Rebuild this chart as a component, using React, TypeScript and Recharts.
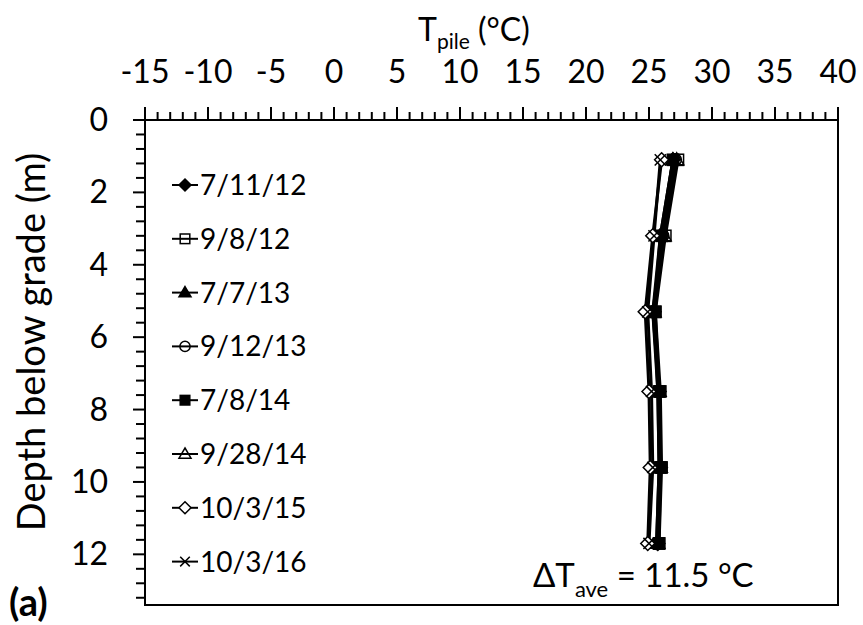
import React from "react";
import {
  LineChart,
  Line,
  XAxis,
  YAxis,
  Legend,
  ReferenceArea,
  Customized,
} from "recharts";

// depth (m) of each sensor
const depths = [1.1, 3.2, 5.3, 7.5, 9.6, 11.7];

// pile temperature (°C) per survey date
const t071112 = [26.9, 25.9, 25.4, 25.8, 25.9, 25.7];
const t090812 = [27.3, 26.3, 25.5, 25.8, 25.9, 25.8];
const t070713 = [26.9, 25.9, 25.3, 25.8, 25.9, 25.7];
const t091213 = [27.1, 26.1, 25.3, 25.7, 25.8, 25.6];
const t070814 = [26.9, 26.0, 25.5, 25.9, 26.0, 25.8];
const t092814 = [27.2, 26.2, 25.4, 25.7, 25.8, 25.6];
const t100315 = [26.0, 25.3, 24.7, 25.0, 25.1, 24.9];
const t100316 = [25.9, 25.4, 24.9, 25.2, 25.3, 25.0];

const seriesNames = [
  "7/11/12",
  "9/8/12",
  "7/7/13",
  "9/12/13",
  "7/8/14",
  "9/28/14",
  "10/3/15",
  "10/3/16",
];
const seriesValues = [
  t071112,
  t090812,
  t070713,
  t091213,
  t070814,
  t092814,
  t100315,
  t100316,
];
const seriesMarkers = [
  "diamond",
  "openSquare",
  "triangle",
  "openCircle",
  "square",
  "openTriangle",
  "openDiamond",
  "cross",
];

const xMajorTicks = [-15, -10, -5, 0, 5, 10, 15, 20, 25, 30, 35, 40];
const yMajorTicks = [0, 2, 4, 6, 8, 10, 12];

const xMinorTicks: number[] = [];
for (let v = -15; v <= 40; v++) xMinorTicks.push(v);
const yMinorTicks: number[] = [];
for (let k = 0; k <= 33; k++) yMinorTicks.push(Number((k * 0.4).toFixed(1)));

const rows = depths.map((depth, i) => {
  const row: Record<string, number> = { depth };
  seriesValues.forEach((vals, s) => {
    row["s" + s] = vals[i];
  });
  return row;
});

const FONT = "Lato, 'Open Sans', sans-serif";

function Marker({ kind, cx, cy, r = 7 }: { kind: string; cx: number; cy: number; r?: number }) {
  const sw = 1.5;
  switch (kind) {
    case "diamond":
    case "openDiamond":
      return (
        <polygon
          points={`${cx},${cy - r} ${cx + r},${cy} ${cx},${cy + r} ${cx - r},${cy}`}
          fill={kind === "diamond" ? "#000" : "#fff"}
          stroke="#000"
          strokeWidth={sw}
        />
      );
    case "square":
    case "openSquare":
      return (
        <rect
          x={cx - r * 0.8}
          y={cy - r * 0.8}
          width={r * 1.6}
          height={r * 1.6}
          fill={kind === "square" ? "#000" : "none"}
          stroke="#000"
          strokeWidth={sw}
        />
      );
    case "triangle":
    case "openTriangle":
      return (
        <polygon
          points={`${cx},${cy - r} ${cx + r},${cy + r * 0.7} ${cx - r},${cy + r * 0.7}`}
          fill={kind === "triangle" ? "#000" : "none"}
          stroke="#000"
          strokeWidth={sw}
        />
      );
    case "openCircle":
      return <circle cx={cx} cy={cy} r={r * 0.85} fill="none" stroke="#000" strokeWidth={sw} />;
    default:
      return (
        <g stroke="#000" strokeWidth={sw}>
          <line x1={cx - r * 0.8} y1={cy - r * 0.8} x2={cx + r * 0.8} y2={cy + r * 0.8} />
          <line x1={cx - r * 0.8} y1={cy + r * 0.8} x2={cx + r * 0.8} y2={cy - r * 0.8} />
        </g>
      );
  }
}

const XTick = (props: any) => {
  const { x, y, payload } = props;
  const v = payload.value;
  const major = xMajorTicks.includes(v);
  return (
    <g>
      <line x1={x} x2={x} y1={y} y2={y - (major ? 13 : 8)} stroke="#000" strokeWidth={2} />
      {major && (
        <text x={x} y={y - 37} textAnchor="middle" fontSize={32} fontFamily={FONT} fill="#000">
          {v}
        </text>
      )}
    </g>
  );
};

const YTick = (props: any) => {
  const { x, y, payload } = props;
  const v = payload.value;
  const major = yMajorTicks.some((m) => Math.abs(m - v) < 1e-6);
  return (
    <g>
      <line x1={x} x2={x - (major ? 12 : 9)} y1={y} y2={y} stroke="#000" strokeWidth={2} />
      {major && (
        <text x={x - 37} y={y + 11} textAnchor="end" fontSize={32} fontFamily={FONT} fill="#000">
          {v}
        </text>
      )}
    </g>
  );
};

const renderLegend = () => (
  <svg width={200} height={440}>
    {seriesNames.map((name, i) => {
      const cy = 25 + i * 53.8;
      return (
        <g key={name}>
          <line x1={7} x2={33} y1={cy} y2={cy} stroke="#000" strokeWidth={2} />
          <Marker kind={seriesMarkers[i]} cx={20} cy={cy} r={6} />
          <text x={35} y={cy + 10} fontSize={28} fontFamily={FONT} fill="#000">
            {name}
          </text>
        </g>
      );
    })}
  </svg>
);

const Texts = () => (
  <g fontFamily={FONT} fill="#000">
    <text x={418} y={41} fontSize={32}>
      T<tspan fontSize={21} dy={8}>pile</tspan>
      <tspan dy={-8}> (°C)</tspan>
    </text>
    <text
      x={0}
      y={0}
      fontSize={38}
      textAnchor="middle"
      transform="translate(45,342) rotate(-90)"
    >
      Depth below grade (m)
    </text>
    <text x={533} y={587} fontSize={33}>
      ΔT<tspan fontSize={22} dy={10}>ave</tspan>
      <tspan dy={-10}> = 11.5 °C</tspan>
    </text>
    <text x={9} y={616} fontSize={38} fontWeight="bold">
      (a)
    </text>
  </g>
);

export default function App() {
  return (
    <div style={{ position: "absolute", left: 0, top: 0, width: 863, height: 625, background: "#fff" }}>
      <LineChart
        width={863}
        height={625}
        data={rows}
        layout="vertical"
        margin={{ top: 60, left: 85, right: 25, bottom: 20 }}
      >
        <XAxis
          type="number"
          orientation="top"
          domain={[-15, 40]}
          ticks={xMinorTicks}
          interval={0}
          height={60}
          tickSize={0}
          tickMargin={0}
          tickLine={false}
          axisLine={{ stroke: "#000", strokeWidth: 2 }}
          tick={<XTick />}
        />
        <YAxis
          type="number"
          dataKey="depth"
          domain={[0, 13.4]}
          ticks={yMinorTicks}
          interval={0}
          width={60}
          tickSize={0}
          tickMargin={0}
          tickLine={false}
          axisLine={{ stroke: "#000", strokeWidth: 2 }}
          tick={<YTick />}
        />
        <ReferenceArea x1={-15} x2={40} y1={0} y2={13.4} fill="none" stroke="#000" strokeWidth={2} />
        {seriesNames.map((name, s) => (
          <Line
            key={name}
            name={name}
            dataKey={"s" + s}
            stroke="#000"
            strokeWidth={3}
            isAnimationActive={false}
            dot={(p: any) => <Marker key={name + p.index} kind={seriesMarkers[s]} cx={p.cx} cy={p.cy} />}
          />
        ))}
        <Legend
          layout="vertical"
          align="center"
          verticalAlign="middle"
          content={renderLegend}
          wrapperStyle={{ left: 165, top: 160, width: 200, height: 440 }}
        />
        <Customized component={Texts} />
      </LineChart>
    </div>
  );
}
